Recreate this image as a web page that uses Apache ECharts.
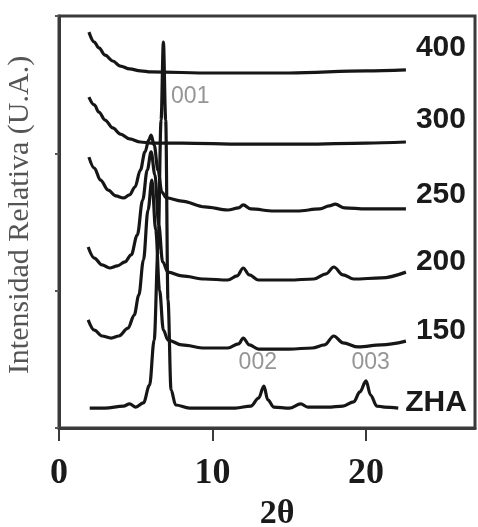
<!DOCTYPE html>
<html>
<head>
<meta charset="utf-8">
<script src="https://cdn.jsdelivr.net/npm/echarts@6/dist/echarts.min.js"></script>
<style>
  html, body { margin: 0; padding: 0; background: #fff; }
  #chart { width: 478px; height: 527px; }
</style>
</head>
<body>
<div id="chart"></div>
<script>
// XRD patterns [2θ, stacked intensity] for each calcination temperature
const zha = [
  [2.0, 5.8], [3.0, 5.8], [4.2, 6.4], [4.6, 7.0], [5.0, 6.1], [5.5, 7.3], [5.9, 12.5],
  [6.2, 25.6], [6.45, 51.8], [6.65, 89.7], [6.8, 112.4], [6.95, 89.7], [7.1, 37.3],
  [7.3, 11.1], [7.6, 6.7], [8.5, 5.8], [10.0, 5.8], [11.5, 5.8], [12.5, 6.4], [13.0, 8.7],
  [13.35, 12.2], [13.6, 8.2], [14.0, 6.1], [15.0, 5.8], [15.75, 7.0], [16.2, 6.1],
  [17.5, 6.1], [18.5, 6.4], [19.2, 7.6], [19.6, 10.5], [20.0, 13.7], [20.3, 9.6],
  [20.7, 6.4], [21.2, 6.1], [22.1, 5.8]
];
const t150 = [
  [1.9, 31.5], [2.3, 28.5], [2.8, 26.8], [3.4, 26.2], [3.9, 26.8], [4.5, 29.1], [4.9, 32.9],
  [5.2, 38.7], [5.5, 48.9], [5.8, 63.5], [6.05, 72.2], [6.3, 57.7], [6.55, 40.2], [6.8, 28.5],
  [7.1, 25.6], [8.0, 24.2], [9.5, 23.3], [11.0, 23.3], [11.7, 24.5], [12.0, 26.2], [12.4, 24.2],
  [13.0, 23.0], [15.0, 23.0], [16.5, 23.3], [17.3, 24.2], [17.9, 26.8], [18.5, 24.8],
  [19.5, 23.6], [21.0, 24.2], [22.6, 25.3]
];
const t200 = [
  [1.9, 52.7], [2.3, 49.5], [2.8, 47.5], [3.3, 46.6], [3.8, 47.2], [4.3, 48.4], [4.7, 50.4],
  [5.1, 56.2], [5.45, 66.4], [5.75, 75.1], [6.0, 80.4], [6.25, 73.7], [6.5, 59.1], [6.75, 48.4],
  [7.1, 45.4], [8.0, 44.3], [9.5, 43.4], [11.0, 43.1], [11.6, 44.3], [12.0, 46.6], [12.4, 44.6],
  [13.0, 43.1], [15.0, 43.1], [16.6, 43.4], [17.4, 44.9], [17.9, 46.9], [18.5, 44.6],
  [19.2, 43.4], [21.0, 43.7], [22.6, 45.4]
];
const t250 = [
  [1.95, 78.9], [2.3, 75.7], [2.7, 72.2], [3.2, 69.3], [3.7, 67.6], [4.2, 67.0], [4.6, 67.9],
  [4.95, 70.2], [5.3, 75.1], [5.6, 80.4], [5.85, 83.9], [6.0, 85.3], [6.2, 82.4], [6.45, 75.1],
  [6.7, 68.7], [7.0, 67.0], [8.0, 66.1], [9.5, 64.4], [11.0, 63.5], [11.7, 64.1], [12.0, 65.0],
  [12.5, 63.8], [14.0, 63.2], [15.5, 63.2], [17.0, 63.8], [17.6, 64.7], [18.0, 65.2],
  [18.6, 64.1], [20.0, 63.8], [22.6, 63.8]
];
const t300 = [
  [1.95, 96.4], [2.3, 94.1], [2.6, 92.0], [3.0, 89.7], [3.5, 87.4], [4.0, 85.6], [4.6, 84.2],
  [5.3, 83.3], [6.0, 83.0], [8.0, 83.0], [12.0, 82.7], [16.0, 82.7], [20.0, 83.0], [22.6, 83.3]
];
const t400 = [
  [1.95, 115.3], [2.3, 112.4], [2.6, 110.7], [3.0, 108.6], [3.5, 106.9], [4.0, 105.4],
  [4.6, 104.6], [5.3, 104.0], [6.0, 103.7], [10.0, 103.4], [15.0, 103.4], [20.0, 104.0],
  [22.6, 104.3]
];

const seriesNames = ['ZHA', '150', '200', '250', '300', '400'];
const seriesData = [zha, t150, t200, t250, t300, t400];
// vertical nudge of each right-hand name above its trace end
const nameLift = [-5, -10, -10, -14, -22, -22];
const nameGap = [7, 10, 10, 10, 10, 10];

// reflection indices and where their labels sit [2θ, level]
const reflections = ['001', '002', '003'];
const reflectionSpots = [[8.55, 96.4], [12.95, 18.9], [20.3, 18.9]];

const xTicks = [0, 10, 20];

const chart = echarts.init(document.getElementById('chart'), null, { renderer: 'canvas' });

const lineSeries = seriesData.map((data, i) => ({
  name: seriesNames[i],
  type: 'line',
  data: data,
  showSymbol: false,
  smooth: 0.35,
  smoothMonotone: 'x',
  lineStyle: { color: '#161616', width: 3.2 },
  z: 3,
  silent: true,
  endLabel: {
    show: true,
    formatter: '{a}',
    distance: nameGap[i],
    offset: [0, nameLift[i]],
    color: '#1a1a1a',
    fontFamily: 'Liberation Sans',
    fontWeight: 'bold',
    fontSize: 30
  }
}));

lineSeries.push({
  type: 'scatter',
  symbolSize: 0,
  silent: true,
  data: reflectionSpots.map((p, i) => ({ value: p, name: reflections[i] })),
  label: {
    show: true,
    position: 'inside',
    formatter: '{b}',
    color: '#7a7a7a',
    fontFamily: 'Liberation Sans',
    fontSize: 23
  },
  z: 4
});

chart.setOption({
  animation: false,
  backgroundColor: '#fff',
  grid: {
    left: 59, right: 3, top: 16, bottom: 99,
    outerBoundsMode: 'none',
    containLabel: false,
    show: true, borderColor: '#3a3a3a', borderWidth: 3, backgroundColor: 'transparent'
  },
  xAxis: {
    type: 'value',
    min: 0, max: 27.1, interval: 10,
    name: '2θ',
    nameLocation: 'middle',
    nameGap: 69,
    nameTextStyle: {
      fontFamily: 'Liberation Serif', fontWeight: 'bold', fontSize: 34, color: '#1a1a1a',
      padding: [0, 0, 0, 20]
    },
    axisLine: { show: true, lineStyle: { color: '#3a3a3a', width: 3 } },
    axisTick: { show: true, inside: false, length: 13, customValues: xTicks,
      lineStyle: { color: '#3a3a3a', width: 2 } },
    axisLabel: {
      customValues: xTicks,
      margin: 28,
      fontFamily: 'Liberation Serif', fontWeight: 'bold', fontSize: 36, color: '#1a1a1a'
    },
    splitLine: { show: false }
  },
  yAxis: {
    type: 'value',
    min: 0, max: 120, interval: 40,
    name: 'Intensidad Relativa (U.A.)',
    nameLocation: 'middle',
    nameGap: 24,
    nameTextStyle: {
      fontFamily: 'Liberation Serif', fontSize: 30, color: '#555',
      padding: [0, 0, 0, 14]
    },
    axisLine: { show: true, lineStyle: { color: '#3a3a3a', width: 3 } },
    axisTick: { show: true, inside: false, length: 4, lineStyle: { color: '#555', width: 2 } },
    axisLabel: { show: false },
    splitLine: { show: false }
  },
  series: lineSeries
});
</script>
</body>
</html>
